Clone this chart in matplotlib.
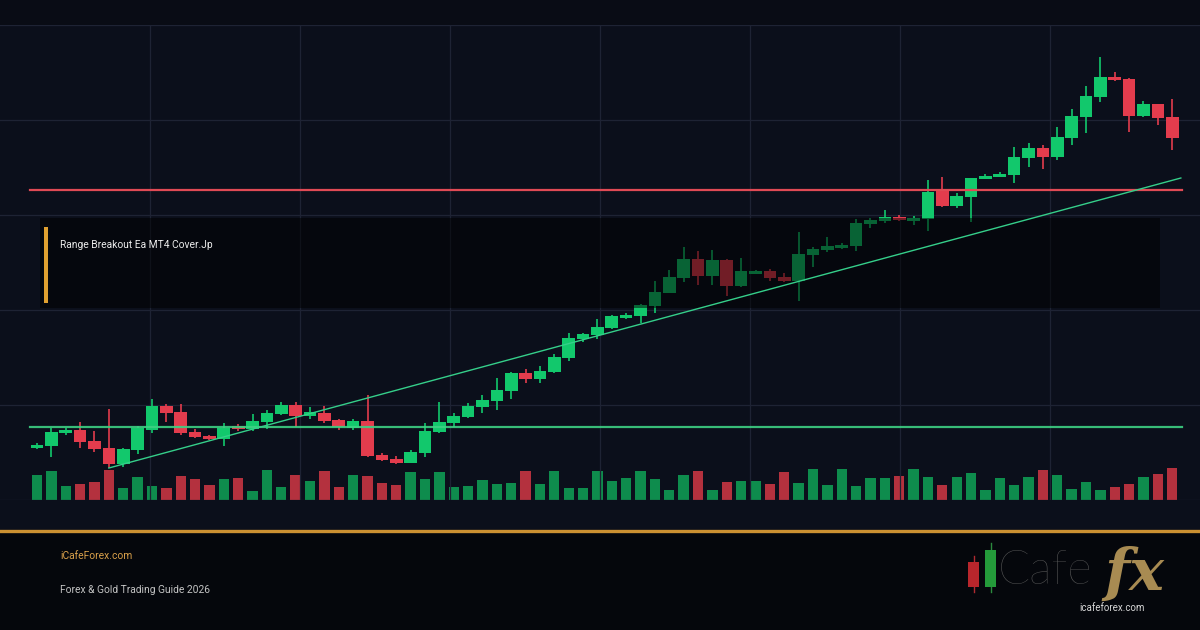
import matplotlib
matplotlib.use("Agg")
import matplotlib.pyplot as plt
from matplotlib.patches import Rectangle
import numpy as np

# ---- data: 80 sessions, price points ----
opens = [2052, 2054, 2067, 2070, 2059, 2052, 2036, 2050, 2070, 2094,
         2088, 2068, 2064, 2061, 2074, 2071, 2078, 2086, 2095, 2084,
         2087, 2080, 2072, 2079, 2045, 2041, 2037, 2047, 2068, 2077,
         2083, 2093, 2099, 2109, 2127, 2121, 2128, 2142, 2161, 2165,
         2172, 2182, 2184, 2194, 2207, 2222, 2241, 2224, 2240, 2214,
         2226, 2229, 2223, 2219, 2245, 2250, 2252, 2254, 2276, 2279,
         2283, 2279, 2281, 2309, 2294, 2303, 2321, 2323, 2325, 2342,
         2352, 2343, 2362, 2383, 2403, 2423, 2421, 2384, 2396, 2383]
highs = [2057, 2072, 2072, 2078, 2069, 2091, 2052, 2074, 2101, 2096,
         2096, 2071, 2065, 2077, 2076, 2086, 2090, 2098, 2098, 2093,
         2094, 2081, 2081, 2105, 2047, 2044, 2050, 2077, 2098, 2087,
         2097, 2105, 2122, 2128, 2131, 2134, 2146, 2167, 2167, 2181,
         2185, 2187, 2196, 2219, 2230, 2253, 2249, 2250, 2241, 2242,
         2230, 2231, 2227, 2268, 2253, 2263, 2257, 2281, 2282, 2290,
         2285, 2284, 2320, 2323, 2307, 2322, 2326, 2328, 2353, 2357,
         2355, 2373, 2391, 2414, 2443, 2428, 2422, 2399, 2396, 2401]
lows = [2051, 2043, 2065, 2052, 2048, 2032, 2033, 2046, 2067, 2078,
        2065, 2062, 2060, 2054, 2069, 2069, 2071, 2085, 2073, 2081,
        2077, 2070, 2070, 2043, 2039, 2036, 2037, 2043, 2067, 2073,
        2082, 2087, 2090, 2101, 2117, 2117, 2127, 2139, 2158, 2161,
        2171, 2181, 2177, 2187, 2207, 2218, 2215, 2215, 2204, 2213,
        2226, 2219, 2218, 2199, 2233, 2248, 2251, 2249, 2272, 2277,
        2279, 2275, 2269, 2293, 2292, 2278, 2321, 2323, 2317, 2333,
        2331, 2340, 2355, 2367, 2398, 2419, 2368, 2383, 2375, 2350]
closes = [2055, 2068, 2070, 2058, 2051, 2036, 2051, 2072, 2094, 2087,
          2067, 2063, 2061, 2072, 2071, 2079, 2087, 2095, 2084, 2088,
          2079, 2073, 2079, 2044, 2040, 2037, 2048, 2069, 2078, 2084,
          2094, 2100, 2110, 2127, 2121, 2129, 2143, 2162, 2166, 2173,
          2184, 2185, 2195, 2208, 2223, 2241, 2224, 2240, 2214, 2229,
          2229, 2222, 2219, 2246, 2251, 2254, 2255, 2277, 2280, 2283,
          2280, 2282, 2308, 2294, 2304, 2322, 2324, 2326, 2343, 2352,
          2343, 2363, 2384, 2404, 2423, 2420, 2384, 2396, 2382, 2362]
volumes = [2500, 2900, 1400, 1600, 1800, 3000, 1200, 2300, 1400, 1200,
           2400, 2100, 1500, 2100, 2200, 900, 3000, 1300, 2500, 1900,
           2900, 1300, 2500, 2400, 1700, 1500, 2800, 2100, 2800, 1300,
           1400, 2000, 1600, 1700, 2900, 1600, 2900, 1200, 1200, 2900,
           1900, 2200, 2900, 2100, 1000, 2500, 2900, 1000, 1800, 1900,
           1900, 1600, 2800, 1700, 3100, 1500, 3100, 1400, 2200, 2200,
           2400, 3100, 2300, 1500, 2300, 2700, 1000, 2200, 1500, 2300,
           3000, 2500, 1100, 1800, 1000, 1300, 1600, 2300, 2600, 3200]
vol_up = [1, 1, 1, 0, 0, 0, 1, 1, 1, 0, 0, 0, 0, 1, 0, 1, 1, 1, 0, 1,
          0, 0, 1, 0, 0, 0, 1, 1, 1, 1, 1, 1, 1, 1, 0, 1, 1, 1, 1, 1,
          1, 1, 1, 1, 1, 1, 0, 1, 0, 1, 1, 0, 0, 1, 1, 1, 1, 1, 1, 1,
          0, 1, 1, 0, 1, 1, 1, 1, 1, 1, 0, 1, 1, 1, 1, 0, 0, 1, 0, 0]

support = 2073
resistance = 2310
level_span = [-0.5, 79.7]
trend_x = [5, 79.6]
trend_y = [2032, 2322]

title = "Range Breakout Ea MT4 Cover.Jp"
site = "iCafeForex.com"
subtitle = "Forex & Gold Trading Guide 2026"

UP, DOWN = "#12c86c", "#e33c4d"
VUP, VDOWN = "#0e8c4d", "#b4313e"
GOLD = "#cc9132"
W, H = 1200, 630

plt.rcParams["font.family"] = ["Roboto", "DejaVu Sans"]

fig = plt.figure(figsize=(12, 6.3), dpi=100, facecolor="#090c15")

def fx(px):
    return px / W

def fy(py):
    return 1 - py / H

# chart background, footer, gold rule
fig.patches.append(Rectangle((0, fy(530)), 1, fy(25) - fy(530), transform=fig.transFigure,
                             facecolor="#0b0f1b", edgecolor="none", zorder=0))
fig.patches.append(Rectangle((0, 0), 1, fy(532), transform=fig.transFigure,
                             facecolor="#05070c", edgecolor="none", zorder=0))
fig.add_artist(plt.Line2D([0, 1], [fy(531), fy(531)], transform=fig.transFigure,
                          color=GOLD, lw=2.4, zorder=2))

rect = [0, fy(500), 1, fy(25) - fy(500)]
n = len(opens)
idx = np.arange(n)
step = 14.37
xlim = (-37 / step, (W - 37) / step)

# volume axes (behind)
axv = fig.add_axes(rect, zorder=1)
axv.patch.set_visible(False)
axv.bar(idx, volumes, width=0.72, color=[VUP if u else VDOWN for u in vol_up])
axv.set_xlim(*xlim)
axv.set_ylim(0, 47500)
axv.axis("off")

# price axes
ax = fig.add_axes(rect, zorder=2)
ax.patch.set_visible(False)
ax.set_xlim(*xlim)
ax.set_ylim(2000, 2475)
ax.set_yticks([2000, 2095, 2190, 2285, 2380, 2475])
ax.set_xticks([(p - 37) / step for p in range(150, 1100, 150)])
ax.grid(color="#1e2334", lw=0.9, zorder=0)
ax.tick_params(length=0, labelbottom=False, labelleft=False)
for s in ax.spines.values():
    s.set_visible(False)

o = np.array(opens)
c = np.array(closes)
cols = [UP if cc >= oo else DOWN for oo, cc in zip(o, c)]
ax.vlines(idx, lows, highs, colors=cols, lw=1.2, zorder=3)
ax.bar(idx, np.maximum(np.abs(c - o), 1), bottom=np.minimum(o, c), width=0.88,
       color=cols, zorder=4)

# title panel (dark translucent box)
fig.patches.append(Rectangle((fx(40), fy(308)), fx(1120), fy(218) - fy(308),
                             transform=fig.transFigure, facecolor="#000000",
                             alpha=0.5, edgecolor="none", zorder=3))
fig.patches.append(Rectangle((fx(44), fy(303)), fx(3.5), fy(227) - fy(303),
                             transform=fig.transFigure, facecolor="#e0a030",
                             edgecolor="none", zorder=4))
fig.text(fx(60), fy(245), title, color="#ececec", fontsize=7.4, va="center", zorder=5)

# levels and trendline
ax3 = fig.add_axes(rect, zorder=4)
ax3.patch.set_visible(False)
ax3.set_xlim(*xlim)
ax3.set_ylim(2000, 2475)
ax3.axis("off")
ax3.plot(level_span, [resistance] * 2, color="#e04a55", lw=1.6)
ax3.plot(level_span, [support] * 2, color="#3ed083", lw=1.6, alpha=0.9)
ax3.plot(trend_x, trend_y, color="#35cf8a", lw=1.0)

# footer text
fig.text(fx(60), fy(556), site, color="#d9a04a", fontsize=7.4, va="center")
fig.text(fx(60), fy(590), subtitle, color="#c4c4c4", fontsize=7.4, va="center")

# logo
fig.add_artist(plt.Line2D([fx(974), fx(974)], [fy(592), fy(556)], transform=fig.transFigure,
                          color="#b02a30", lw=1))
fig.patches.append(Rectangle((fx(968), fy(587)), fx(11), fy(562) - fy(587), transform=fig.transFigure,
                             facecolor="#b8262c", edgecolor="none", zorder=3))
fig.add_artist(plt.Line2D([fx(990.5), fx(990.5)], [fy(592), fy(543)], transform=fig.transFigure,
                          color="#2b8a3e", lw=1))
fig.patches.append(Rectangle((fx(985), fy(587)), fx(11), fy(550) - fy(587), transform=fig.transFigure,
                             facecolor="#249a3a", edgecolor="none", zorder=3))
fig.text(fx(998), fy(571), "Cafe", color="#5a5a5a", fontsize=34, fontweight="light",
         va="center", ha="left", family=["Lato", "DejaVu Sans"])
fig.text(fx(1104), fy(574), "fx", color="#a88b52", fontsize=42, fontweight="bold",
         style="italic", va="center", ha="left", family=["DejaVu Serif"])
fig.text(fx(1112), fy(608), "icafeforex.com", color="#d6d6d6", fontsize=7, va="center", ha="center")

fig.savefig("out.png", dpi=100, facecolor=fig.get_facecolor())
